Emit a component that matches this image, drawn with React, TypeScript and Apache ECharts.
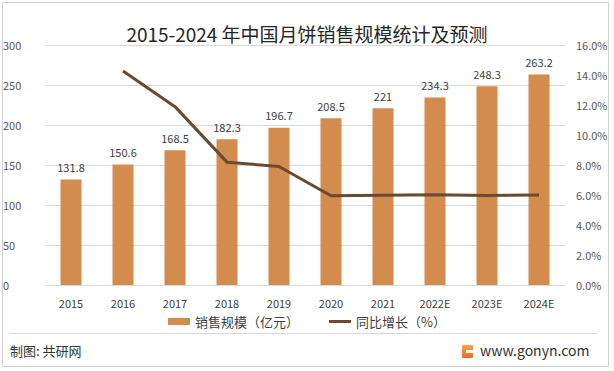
import React, { useEffect, useRef } from "react";
import * as echarts from "echarts";

const years = ["2015", "2016", "2017", "2018", "2019", "2020", "2021", "2022E", "2023E", "2024E"];
const sales = [131.8, 150.6, 168.5, 182.3, 196.7, 208.5, 221, 234.3, 248.3, 263.2];
const growth = [null, 14.26, 11.89, 8.19, 7.9, 5.95, 5.99, 6.02, 5.96, 6.0];

const FONT = "'Microsoft YaHei', 'Noto Sans CJK SC', 'Noto Sans', sans-serif";

export default function App() {
  const ref = useRef<HTMLDivElement>(null);
  useEffect(() => {
    document.body.style.margin = "0";
    const chart = echarts.init(ref.current!, null, { renderer: "svg" });
    chart.setOption({
      animation: false,
      backgroundColor: "#fff",
      textStyle: { fontFamily: FONT },
      title: {
        text: "2015-2024 年中国月饼销售规模统计及预测",
        left: "center",
        top: 19,
        textStyle: { fontSize: 19, fontWeight: "normal", color: "#262626", fontFamily: FONT },
      },
      legend: {
        bottom: 38,
        left: "center",
        itemGap: 30,
        itemWidth: 22,
        itemHeight: 7,
        symbolKeepAspect: true,
        textStyle: { fontSize: 13, color: "#404040", fontFamily: FONT },
        data: [
          { name: "销售规模（亿元）", icon: "rect" },
          { name: "同比增长（%）", icon: "path://M0,0h22v3h-22z", itemStyle: { color: "#6B4A2F" } },
        ],
      },
      grid: { left: 34, right: 49, top: 45, bottom: 86 },
      xAxis: {
        type: "category",
        data: years,
        axisLine: { show: false },
        axisTick: { show: false },
        axisLabel: { color: "#404040", fontSize: 11, margin: 12 },
      },
      yAxis: [
        {
          type: "value",
          min: 0,
          max: 300,
          interval: 50,
          axisLine: { show: false },
          axisTick: { show: false },
          splitLine: { lineStyle: { color: "#D9D9D9" } },
          axisLabel: { color: "#595959", fontSize: 11, margin: 14, align: "left", padding: [0, 0, 0, -28] },
        },
        {
          type: "value",
          min: 0,
          max: 16,
          interval: 2,
          axisLine: { show: false },
          axisTick: { show: false },
          splitLine: { show: false },
          axisLabel: {
            color: "#595959",
            fontSize: 11,
            margin: 11,
            formatter: (v: number) => v.toFixed(1) + "%",
          },
        },
      ],
      series: [
        {
          name: "销售规模（亿元）",
          type: "bar",
          data: sales,
          barWidth: 21,
          itemStyle: { color: "#D48B4E" },
          label: { show: true, position: "top", distance: 7, color: "#404040", fontSize: 11 },
        },
        {
          name: "同比增长（%）",
          type: "line",
          yAxisIndex: 1,
          data: growth,
          symbol: "none",
          lineStyle: { color: "#6B4A2F", width: 3 },
          itemStyle: { color: "#6B4A2F" },
        },
      ],
      graphic: [
        {
          type: "rect",
          shape: { x: 2.5, y: 2.5, width: 606, height: 364 },
          style: { fill: "none", stroke: "#D0D0D0", lineWidth: 1 },
          silent: true,
        },
        {
          type: "line",
          shape: { x1: 10, y1: 333.5, x2: 597, y2: 333.5 },
          style: { stroke: "#D9D9D9", lineWidth: 1 },
        },
        {
          type: "text",
          x: 10,
          y: 344,
          style: { text: "制图: 共研网", fontSize: 13, fill: "#333", fontFamily: FONT },
        },
        {
          type: "rect",
          shape: { x: 462, y: 345, width: 11, height: 13, r: 1 },
          style: {
            fill: new echarts.graphic.LinearGradient(0, 0, 0, 1, [
              { offset: 0, color: "#F7A54A" },
              { offset: 1, color: "#EE6A2C" },
            ]),
          },
        },
        {
          type: "rect",
          shape: { x: 466, y: 350, width: 7, height: 3 },
          style: { fill: "#fff" },
        },
        {
          type: "text",
          x: 480,
          y: 343,
          style: { text: "www.gonyn.com", fontSize: 14, fill: "#333", fontFamily: FONT },
        },
      ],
    });
    return () => chart.dispose();
  }, []);
  return <div ref={ref} style={{ width: 614, height: 371, position: "absolute", left: 0, top: 0 }} />;
}
